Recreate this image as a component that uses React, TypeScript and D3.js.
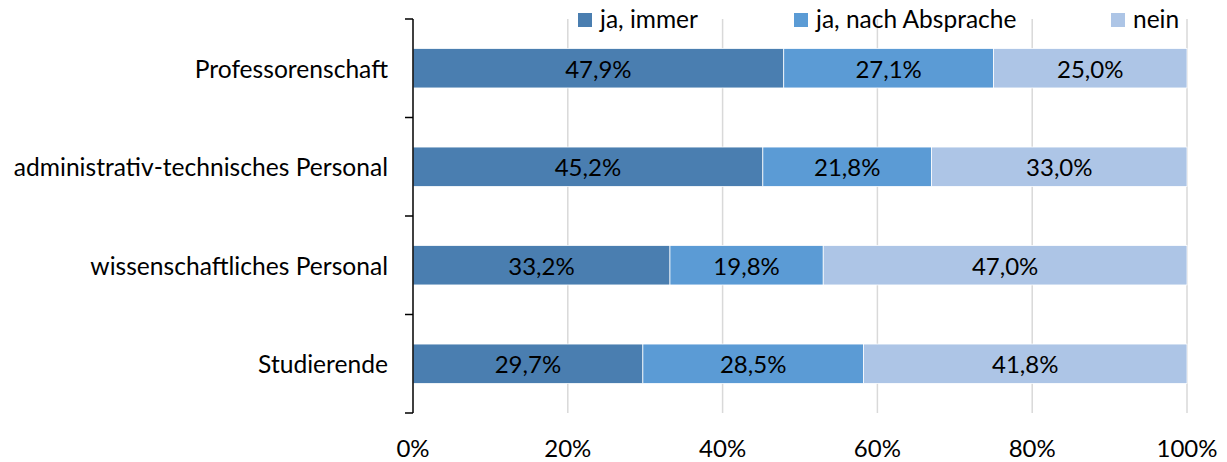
import React from "react";
import * as d3 from "d3";

const categories = [
  "Professorenschaft",
  "administrativ-technisches Personal",
  "wissenschaftliches Personal",
  "Studierende",
];
const seriesNames = ["ja, immer", "ja, nach Absprache", "nein"];
const jaImmer = [47.9, 45.2, 33.2, 29.7];
const jaNachAbsprache = [27.1, 21.8, 19.8, 28.5];
const nein = [25.0, 33.0, 47.0, 41.8];
const xTicks = [0, 20, 40, 60, 80, 100];

const colors = ["#4A7EB0", "#5B9BD5", "#ADC5E6"];
const FONT = "Lato, 'Open Sans', sans-serif";

const W = 1227;
const H = 462;
const left = 413;
const right = 1187;
const top = 19;
const bottom = 413;

export default function App() {
  const x = d3.scaleLinear().domain([0, 100]).range([left, right]);
  const y = d3
    .scaleBand<string>()
    .domain(categories)
    .range([top, bottom])
    .paddingInner(0.6)
    .paddingOuter(0.3);

  const rows = categories.map((c, i) => ({
    cat: c,
    values: [jaImmer[i], jaNachAbsprache[i], nein[i]],
  }));
  const stacked = rows.map((r) => {
    let acc = 0;
    return r.values.map((v, k) => {
      const s = { x0: acc, x1: acc + v, v, k };
      acc += v;
      return s;
    });
  });

  const fmt = (v: number) => v.toFixed(1).replace(".", ",") + "%";
  const step = y.step();
  const boundaries = d3.range(categories.length + 1).map((i) => top + i * step);

  // legend layout: square, then label
  const legendX = [578, 794, 1111];

  return (
    <svg
      width={W}
      height={H}
      style={{ position: "absolute", left: 0, top: 0, background: "#fff" }}
      fontFamily={FONT}
    >
      {/* vertical gridlines */}
      {xTicks.slice(1).map((t) => (
        <line
          key={t}
          x1={x(t)}
          x2={x(t)}
          y1={top}
          y2={bottom}
          stroke="#D9D9D9"
          strokeWidth={1.5}
        />
      ))}

      {/* bars */}
      {rows.map((r, i) =>
        stacked[i].map((s) => (
          <g key={r.cat + s.k}>
            <rect
              x={x(s.x0)}
              y={y(r.cat)}
              width={x(s.x1) - x(s.x0)}
              height={y.bandwidth()}
              fill={colors[s.k]}
              stroke="#fff"
              strokeWidth={0.75}
            />
            <text
              x={(x(s.x0) + x(s.x1)) / 2}
              y={(y(r.cat) as number) + y.bandwidth() / 2}
              textAnchor="middle"
              dominantBaseline="central"
              fontSize={24}
              fill="#000"
            >
              {fmt(s.v)}
            </text>
          </g>
        ))
      )}

      {/* category axis */}
      <line x1={left} x2={left} y1={top} y2={bottom} stroke="#000" strokeWidth={1.5} />
      {boundaries.map((b, i) => (
        <line key={i} x1={left - 8} x2={left} y1={b} y2={b} stroke="#000" strokeWidth={1.5} />
      ))}
      {categories.map((c) => (
        <text
          key={c}
          x={388}
          y={(y(c) as number) + y.bandwidth() / 2}
          textAnchor="end"
          dominantBaseline="central"
          fontSize={24.6}
          fill="#000"
        >
          {c}
        </text>
      ))}

      {/* value axis labels */}
      {xTicks.map((t) => (
        <text key={t} x={x(t)} y={457} textAnchor="middle" fontSize={24} fill="#000">
          {t + "%"}
        </text>
      ))}

      {/* legend */}
      {seriesNames.map((n, k) => (
        <g key={n}>
          <rect x={legendX[k]} y={13} width={14} height={14} fill={colors[k]} />
          <text x={legendX[k] + 22} y={28} fontSize={24.5} fill="#000">
            {n}
          </text>
        </g>
      ))}
    </svg>
  );
}
